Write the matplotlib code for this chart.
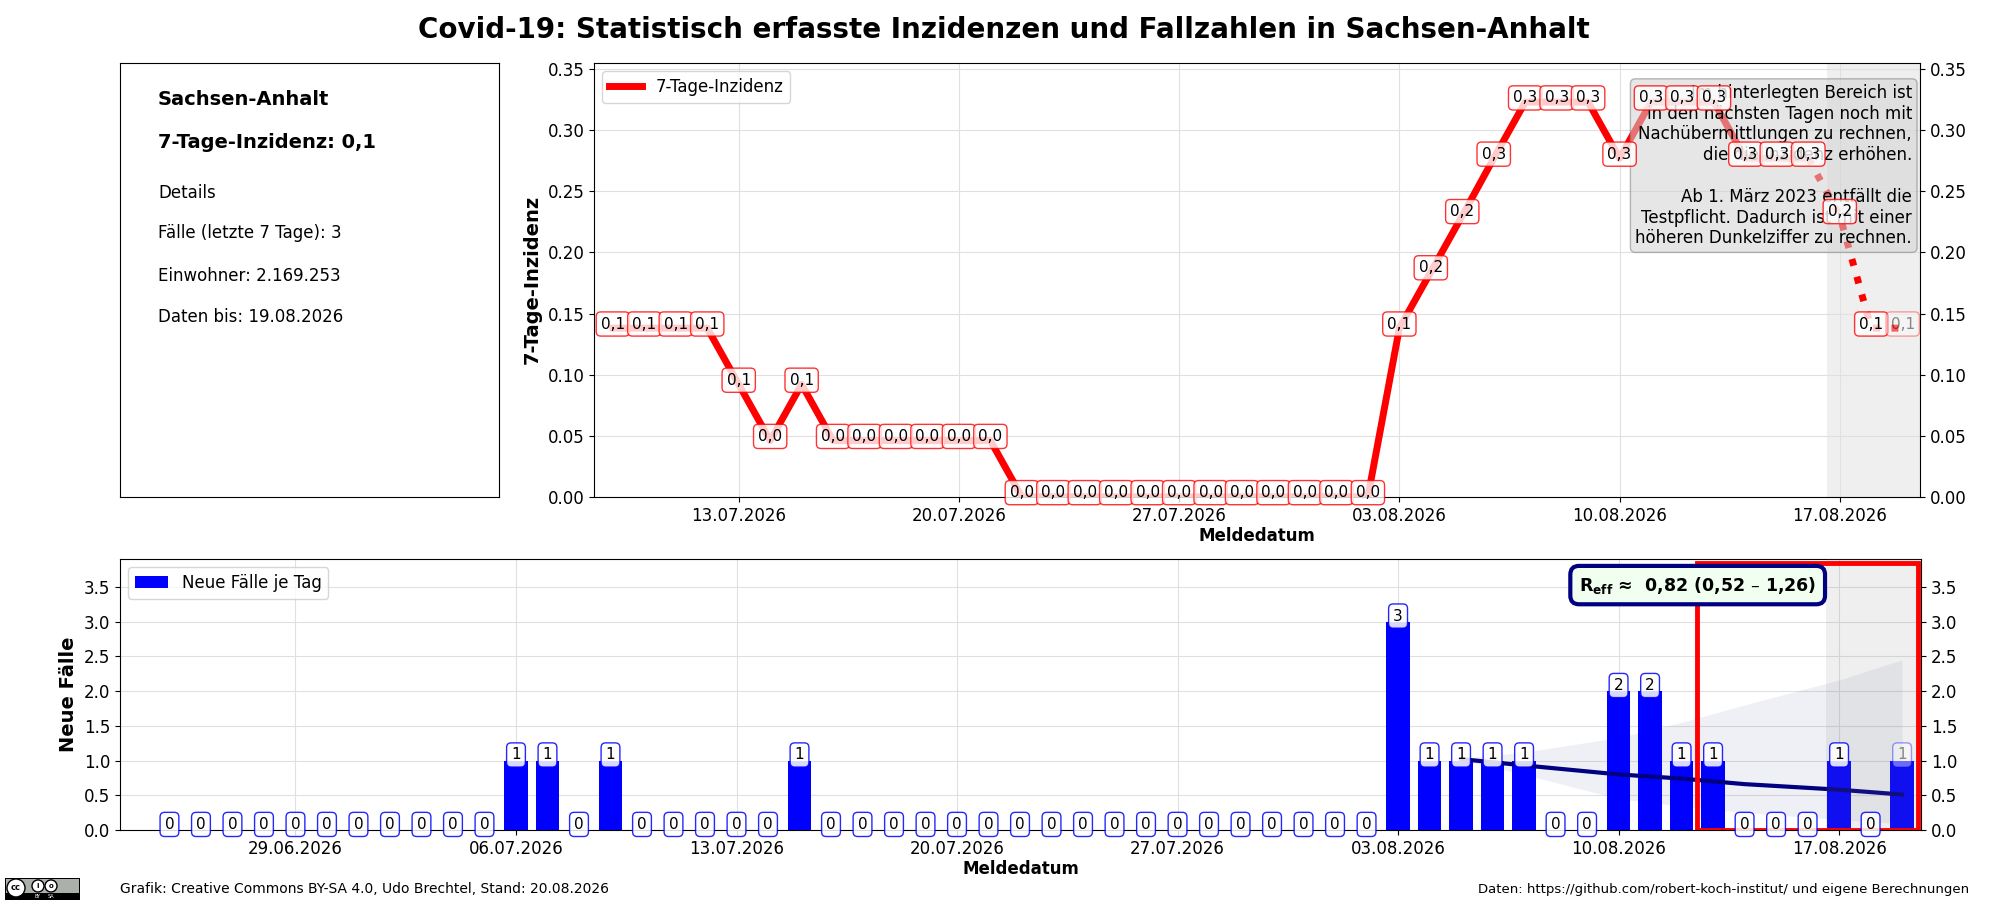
import matplotlib
matplotlib.use('Agg')
import matplotlib.pyplot as plt
import matplotlib.dates as mdates
from matplotlib.patches import Rectangle, Circle
import pandas as pd

# --- data ---
bar_days = pd.date_range('2026-06-25', '2026-08-19', freq='D')
new_cases = [0, 0, 0, 0, 0, 0, 0, 0, 0, 0, 0,          # 25.06 - 05.07
             1, 1, 0, 1, 0, 0, 0, 0, 0, 1,             # 06.07 - 15.07
             0, 0, 0, 0, 0, 0, 0, 0, 0, 0, 0, 0, 0, 0, 0, 0, 0, 0,   # 16.07 - 02.08
             3, 1, 1, 1, 1, 0, 0, 2, 2, 1, 1, 0, 0, 0, 1, 0, 1]      # 03.08 - 19.08

inz_days = pd.date_range('2026-07-09', '2026-08-19', freq='D')
inzidenz = [0.138, 0.138, 0.138, 0.138, 0.092, 0.046, 0.092, 0.046, 0.046, 0.046,
            0.046, 0.046, 0.046,                                   # 09.07 - 21.07
            0, 0, 0, 0, 0, 0, 0, 0, 0, 0, 0, 0,                    # 22.07 - 02.08
            0.138, 0.184, 0.230, 0.277, 0.323, 0.323, 0.323, 0.277, 0.323, 0.323,
            0.323, 0.277, 0.277, 0.277, 0.230, 0.138, 0.138]       # 03.08 - 19.08

# R_eff trend with band (read at a few dates)
trend_days = pd.to_datetime(['2026-08-05', '2026-08-07', '2026-08-10', '2026-08-12',
                             '2026-08-14', '2026-08-17', '2026-08-19'])
trend_mid = [1.02, 0.93, 0.80, 0.74, 0.66, 0.58, 0.51]
trend_lo = [1.00, 0.80, 0.45, 0.34, 0.25, 0.15, 0.09]
trend_hi = [1.03, 1.12, 1.33, 1.55, 1.80, 2.16, 2.45]

note = ("Im hinterlegten Bereich ist\nin den nächsten Tagen noch mit\n"
        "Nachübermittlungen zu rechnen,\ndie die Inzidenz erhöhen.\n\n"
        "Ab 1. März 2023 entfällt die\nTestpflicht. Dadurch ist mit einer\n"
        "höheren Dunkelziffer zu rechnen.")


def fmt(v):
    return ('%.1f' % v).replace('.', ',')


fig = plt.figure(figsize=(20, 9), dpi=100)
ax_info = fig.add_axes([0.06, 0.448, 0.1895, 0.482])
ax_inz = fig.add_axes([0.297, 0.448, 0.663, 0.482])
ax_bar = fig.add_axes([0.06, 0.0778, 0.9005, 0.301])

fig.text(0.502, 0.967, 'Covid-19: Statistisch erfasste Inzidenzen und Fallzahlen in Sachsen-Anhalt',
         ha='center', va='center', fontsize=20, fontweight='bold')

# --- info box ---
ax_info.set_xticks([])
ax_info.set_yticks([])
ax_info.text(0.1, 0.917, 'Sachsen-Anhalt', fontsize=14, fontweight='bold', va='center')
ax_info.text(0.1, 0.816, '7-Tage-Inzidenz: ' + fmt(inzidenz[-1]), fontsize=14,
             fontweight='bold', va='center')
ax_info.text(0.1, 0.70, 'Details', fontsize=12, va='center')
ax_info.text(0.1, 0.608, 'Fälle (letzte 7 Tage): 3', fontsize=12, va='center')
ax_info.text(0.1, 0.509, 'Einwohner: 2.169.253', fontsize=12, va='center')
ax_info.text(0.1, 0.415, 'Daten bis: 19.08.2026', fontsize=12, va='center')

# --- 7-Tage-Inzidenz ---
xi = mdates.date2num(inz_days.to_pydatetime())
cut = len(xi) - 4
ax = ax_inz
ax.set_axisbelow(True)
ax.grid(True, color='#e0e0e0', lw=0.8)
ax.axvspan(xi[-3] - 0.4, xi[-1] + 0.6, color='grey', alpha=0.12, lw=0, zorder=0)
ax.plot(xi[:cut + 1], inzidenz[:cut + 1], color='red', lw=5, label='7-Tage-Inzidenz', zorder=2)
ax.plot(xi[cut:], inzidenz[cut:], color='red', lw=5, ls=':', zorder=2)
for i, (x, v) in enumerate(zip(xi, inzidenz)):
    a = 0.45 if i == len(xi) - 1 else 1.0
    ax.annotate(fmt(v), (x, v), xytext=(0, 3), textcoords='offset points',
                ha='center', va='center', fontsize=11, alpha=a, zorder=5,
                bbox=dict(boxstyle='round,pad=0.3', fc='white', ec='red', alpha=0.8 * a))
ax.text(0.994, 0.952, note, transform=ax.transAxes, ha='right', va='top', fontsize=12,
        zorder=4, bbox=dict(boxstyle='round,pad=0.3', fc='#d3d3d3', ec='grey', alpha=0.55))
ax.set_xlim(xi[0] - 0.6, xi[-1] + 0.55)
ax.set_ylim(0, 0.355)
ax.set_yticks([0, 0.05, 0.10, 0.15, 0.20, 0.25, 0.30, 0.35])
ax.yaxis.set_major_formatter(matplotlib.ticker.FormatStrFormatter('%.2f'))
ax.xaxis.set_major_locator(mdates.WeekdayLocator(byweekday=mdates.MO))
ax.xaxis.set_major_formatter(mdates.DateFormatter('%d.%m.%Y'))
ax.tick_params(labelsize=12, right=True, labelright=True)
ax.set_ylabel('7-Tage-Inzidenz', fontsize=14, fontweight='bold')
ax.set_xlabel('Meldedatum', fontsize=12, fontweight='bold', labelpad=2)
ax.legend(loc='upper left', fontsize=12)

# --- Neue Fälle ---
xb = mdates.date2num(bar_days.to_pydatetime())
xt = mdates.date2num(trend_days.to_pydatetime())
ax = ax_bar
ax.set_axisbelow(True)
ax.grid(True, color='#e0e0e0', lw=0.8)
ax.fill_between(xt, trend_lo, trend_hi, color='#28307a', alpha=0.07, lw=0, zorder=1)
ax.bar(xb, new_cases, width=0.75, color='blue', label='Neue Fälle je Tag', zorder=2)
ax.plot(xt, trend_mid, color='navy', lw=3, zorder=3)
ax.axvspan(xb[-3] - 0.4, xb[-1] + 0.6, color='grey', alpha=0.12, lw=0, zorder=3)
ax.add_patch(Rectangle((xb[-7] - 0.5, 0), 7.0, 3.85, fill=False, ec='red', lw=3.5, zorder=4))
for i, (x, v) in enumerate(zip(xb, new_cases)):
    a = 0.45 if i == len(xb) - 1 else 1.0
    ax.annotate(str(v), (x, v), xytext=(0, 4), textcoords='offset points',
                ha='center', va='center', fontsize=11, alpha=a, zorder=5,
                bbox=dict(boxstyle='round,pad=0.3', fc='white', ec='blue', alpha=0.85 * a))
ax.text(0.876, 0.904, r'$\mathbf{R_{eff}}$ ≈  0,82 (0,52 – 1,26)', transform=ax.transAxes,
        ha='center', va='center', fontsize=12.5, fontweight='bold', zorder=6,
        bbox=dict(boxstyle='round,pad=0.5', fc='#f0fff0', ec='navy', lw=3))
ax.set_xlim(xb[0] - 1.57, xb[-1] + 0.6)
ax.set_ylim(0, 3.9)
ax.set_yticks([0, 0.5, 1.0, 1.5, 2.0, 2.5, 3.0, 3.5])
ax.xaxis.set_major_locator(mdates.WeekdayLocator(byweekday=mdates.MO))
ax.xaxis.set_major_formatter(mdates.DateFormatter('%d.%m.%Y'))
ax.tick_params(labelsize=12, right=True, labelright=True)
ax.set_ylabel('Neue Fälle', fontsize=14, fontweight='bold')
ax.set_xlabel('Meldedatum', fontsize=12, fontweight='bold', labelpad=2)
ax.legend(loc='upper left', fontsize=12)

# --- footer ---
fig.text(0.06, 0.012, 'Grafik: Creative Commons BY-SA 4.0, Udo Brechtel, Stand: 20.08.2026',
         fontsize=10, va='center')
fig.text(0.9845, 0.012, 'Daten: https://github.com/robert-koch-institut/ und eigene Berechnungen',
         fontsize=9.5, va='center', ha='right')

# small CC BY-SA badge
ax_cc = fig.add_axes([0.0025, 0.0, 0.0375, 0.0245])
ax_cc.set_xlim(0, 75)
ax_cc.set_ylim(0, 22)
ax_cc.axis('off')
ax_cc.add_patch(Rectangle((0, 0), 75, 22, fc='black', ec='black'))
ax_cc.add_patch(Rectangle((1, 7), 73, 14, fc='#abb1aa', ec='none'))
ax_cc.add_patch(Circle((11, 12), 9, fc='white', ec='black', lw=1))
ax_cc.text(11, 12, 'cc', ha='center', va='center', fontsize=6, fontweight='bold')
for cx, s in [(33, 'i'), (46, 'o')]:
    ax_cc.add_patch(Circle((cx, 14), 6, fc='white', ec='black', lw=1))
    ax_cc.text(cx, 14, s, ha='center', va='center', fontsize=5, fontweight='bold')
ax_cc.text(33, 3.5, 'BY', ha='center', va='center', fontsize=3.5, color='white')
ax_cc.text(46, 3.5, 'SA', ha='center', va='center', fontsize=3.5, color='white')

fig.savefig('out.png', dpi=100)
